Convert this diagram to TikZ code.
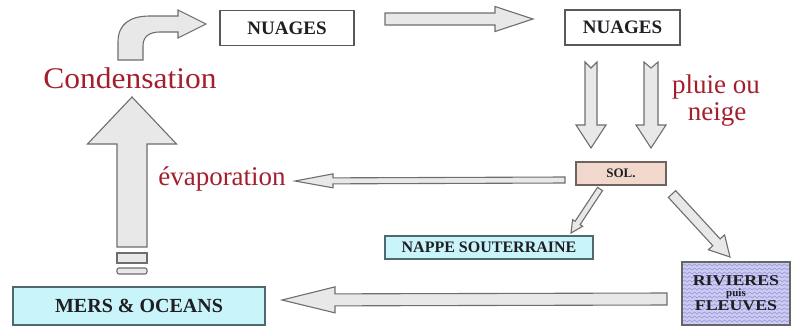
\documentclass[tikz,border=0pt]{standalone}
\usepackage{fontspec}
\setmainfont{Liberation Serif}
\usetikzlibrary{calc,decorations.pathmorphing}
\definecolor{redtxt}{RGB}{165,30,45}
\definecolor{arrfill}{RGB}{232,232,232}
\definecolor{arrdraw}{RGB}{110,110,110}
\definecolor{cyanbox}{RGB}{200,244,250}
\definecolor{cyanedge}{RGB}{80,105,110}
\definecolor{solfill}{RGB}{242,216,204}
\definecolor{soledge}{RGB}{110,100,95}
\definecolor{rivfill}{RGB}{205,205,242}
\definecolor{rivwave}{RGB}{150,150,222}
\definecolor{boxtxt}{RGB}{30,30,35}
\newcommand\myblockarrow[6]{%
  \coordinate (baP) at ($(#2)!#5!(#1)$);
  \draw[blockarrow] ($(#1)!#3!90:(#2)$) -- ($(baP)!#3!90:(#2)$) -- ($(baP)!#4!90:(#2)$) -- (#2)
    -- ($(baP)!#4!-90:(#2)$) -- ($(baP)!#3!-90:(#2)$) -- ($(#1)!#3!-90:(#2)$) -- ($(#1)!#6!(#2)$) -- cycle;}
\begin{document}
\begin{tikzpicture}[x=1pt,y=-1pt,
  blockarrow/.style={fill=arrfill,draw=arrdraw,line width=1.1pt,line join=miter},
  boxbase/.style={draw,line width=1.1pt,inner sep=0pt,text=boxtxt,font=\bfseries},
  nuagesbox/.style={boxbase,draw=black!65,fill=white,minimum width=#1,minimum height=35pt},
  cyanbx/.style={boxbase,draw=cyanedge,fill=cyanbox},
  redlabel/.style={text=redtxt,inner sep=0pt,anchor=base},
  wave/.style={draw=rivwave,line width=0.6pt,decorate,decoration={snake,amplitude=1.1pt,segment length=5pt}}
]
\useasboundingbox (0,0) rectangle (791,327);

% boxes
\node[nuagesbox=134pt,font=\bfseries\fontsize{19}{19}\selectfont] (nuages1) at (287,28) {NUAGES};
\node[nuagesbox=115pt,font=\bfseries\fontsize{19}{19}\selectfont] (nuages2) at (622.5,27.5) {NUAGES};
\node[boxbase,draw=soledge,fill=solfill,minimum width=90pt,minimum height=23pt,font=\bfseries\fontsize{13}{13}\selectfont] (sol) at (621,173.5) {SOL.};
\node[cyanbx,minimum width=208pt,minimum height=23pt,font=\bfseries\fontsize{16}{16}\selectfont] (nappe) at (489,247.5) {NAPPE SOUTERRAINE};
\node[cyanbx,minimum width=252pt,minimum height=38pt,font=\bfseries\fontsize{20}{20}\selectfont] (mers) at (139,306) {MERS \& OCEANS};
\node[boxbase,draw=black!60,fill=rivfill,minimum width=108pt,minimum height=63pt,align=center,
  path picture={\foreach \k in {0,...,17}{\draw[wave] ($(path picture bounding box.north west)+(-4,\k*4-1)$) -- ++(120,0);}}]
  (rivieres) at (736,293.5)
  {\fontsize{15}{11}\selectfont\scalebox{1.19}[1]{RIVIERES}\\[-1pt]{\fontsize{11}{9}\selectfont puis}\\[1pt]\fontsize{15}{11}\selectfont\scalebox{1.19}[1]{FLEUVES}};

% labels
\node[redlabel,font=\fontsize{30}{30}\selectfont,xscale=1.05] (cond) at (130,88) {Condensation};
\node[redlabel,font=\fontsize{27}{27}\selectfont] (evap) at (222,185) {évaporation};
\node[redlabel,font=\fontsize{27}{27}\selectfont] (pluie) at (716,93) {pluie ou};
\node[redlabel,font=\fontsize{27}{27}\selectfont] (neige) at (717,120) {neige};

% connector end points
\coordinate (hA) at (385,19);   \coordinate (hB) at (533,19);
\coordinate (d1A) at (591,62);  \coordinate (d1B) at (591,148);
\coordinate (d2A) at (651,62);  \coordinate (d2B) at (651,148);
\coordinate (eA) at (565,180);  \coordinate (eB) at (295,181);
\coordinate (nA) at (600,189);  \coordinate (nB) at (571,233);
\coordinate (rA) at (672,194);  \coordinate (rB) at (730,257);
\coordinate (bA) at (667,299);  \coordinate (bB) at (282,300);
\coordinate (uA) at (132,247);  \coordinate (uB) at (132,97);

% block arrows
\myblockarrow{hA}{hB}{6pt}{12.5pt}{38pt}{0pt}
\myblockarrow{d1A}{d1B}{6pt}{15pt}{23pt}{6pt}
\myblockarrow{d2A}{d2B}{7pt}{15pt}{23pt}{6pt}
\myblockarrow{eA}{eB}{3pt}{7pt}{38pt}{0pt}
\myblockarrow{nA}{nB}{3pt}{6pt}{12pt}{0pt}
\myblockarrow{rA}{rB}{5pt}{11pt}{20pt}{0pt}
\myblockarrow{bA}{bB}{6pt}{13pt}{53pt}{0pt}
\myblockarrow{uA}{uB}{15pt}{44.5pt}{47pt}{0pt}

% stripes under the big arrow
\draw[blockarrow] (117,253) rectangle (147,263);
\draw[blockarrow,rounded corners=2pt] (117,268) rectangle (147,274);

% bent arrow to the first NUAGES
\draw[blockarrow] (118,60) -- (118,42) .. controls (118,24) and (130,16) .. (150,16)
  -- (178,16) -- (178,10) -- (206,24) -- (178,38) -- (178,32) -- (160,32)
  .. controls (150,32) and (143,36) .. (143,46) -- (143,60) -- cycle;
\end{tikzpicture}
\end{document}
